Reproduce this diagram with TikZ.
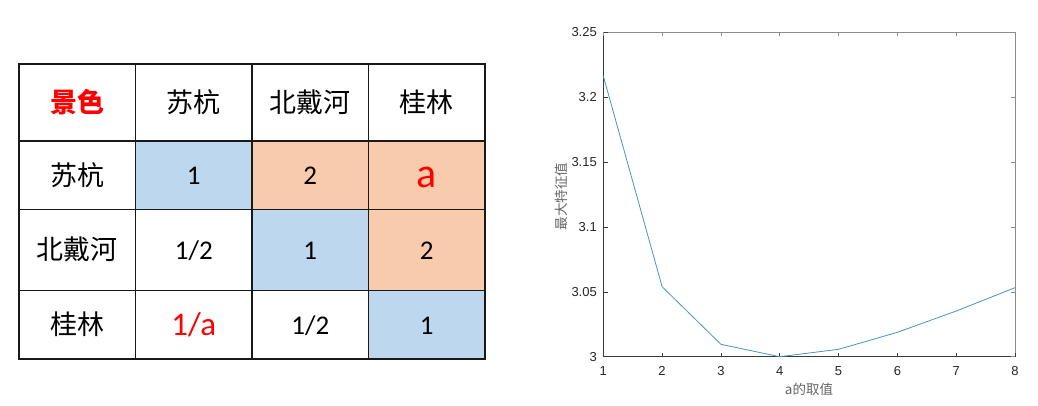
\documentclass[tikz,border=0pt]{standalone}
\usepackage{fontspec}
\setmainfont{Carlito}
\newfontfamily\cjk{Noto Sans CJK SC}
\newfontfamily\arial{Liberation Sans}
\definecolor{cellblue}{HTML}{BDD7EE}
\definecolor{cellorange}{HTML}{F8CBAD}
\definecolor{redtxt}{HTML}{FF0000}
\definecolor{plotline}{RGB}{70,150,190}
\definecolor{axdark}{HTML}{3A3A3A}
\definecolor{axlight}{HTML}{8C8C8C}
\definecolor{ticklbl}{HTML}{262626}
\begin{document}
\begin{tikzpicture}[x=1pt,y=-1pt,
  grid/.style={draw=black!90,line width=1.3pt},
  cn/.style={font=\cjk\fontsize{27}{30}\selectfont},
  num/.style={font=\fontsize{27}{30}\selectfont},
  ytl/.style={anchor=east,font=\arial\fontsize{13}{15}\selectfont,text=ticklbl,inner sep=0pt},
  xtl/.style={anchor=center,font=\arial\fontsize{13}{15}\selectfont,text=ticklbl,inner sep=0pt},
  axlbl/.style={font=\cjk\fontsize{13.5}{15}\selectfont,text=black!60,inner sep=0pt}]
\useasboundingbox (0,0) rectangle (1038,406);
\fill[white] (0,0) rectangle (1038,406);
% ---------- table ----------
\fill[cellblue] (135.7,141) rectangle (252,209.3);
\fill[cellblue] (252,209.3) rectangle (368.7,290.3);
\fill[cellblue] (368.7,290.3) rectangle (485,359);
\fill[cellorange] (252,141) rectangle (368.7,209.3);
\fill[cellorange] (368.7,141) rectangle (485,209.3);
\fill[cellorange] (368.7,209.3) rectangle (485,290.3);
\draw[grid] (19,64) rectangle (485,359);
\foreach \x in {135.7,252,368.7} \draw[grid] (\x,64) -- (\x,359);
\foreach \y in {141,209.3,290.3} \draw[grid] (19,\y) -- (485,\y);
% header row
\node[cn,text=redtxt,font=\cjk\bfseries\fontsize{27}{30}\selectfont] (h0) at (77.3,102.5) {景色};
\node[cn] (h1) at (193.8,102.5) {苏杭};
\node[cn] (h2) at (310.3,102.5) {北戴河};
\node[cn] (h3) at (426.8,102.5) {桂林};
% row labels
\node[cn] (r1) at (77.3,175.2) {苏杭};
\node[cn] (r2) at (77.3,249.8) {北戴河};
\node[cn] (r3) at (77.3,324.6) {桂林};
% values
\node[num] (c11) at (193.8,176) {1};
\node[num] (c12) at (310.3,176) {2};
\node[text=redtxt,font=\fontsize{42}{46}\selectfont] (c13) at (426.8,177) {a};
\node[num] (c21) at (193.8,250.5) {1/2};
\node[num] (c22) at (310.3,250.5) {1};
\node[num] (c23) at (426.8,250.5) {2};
\node[text=redtxt,font=\fontsize{33}{36}\selectfont] (c31) at (193.8,325) {1/a};
\node[num] (c32) at (310.3,325.5) {1/2};
\node[num] (c33) at (426.8,325.5) {1};
% ---------- chart ----------
\draw[axlight,line width=0.6pt] (603.3,32.3) -- (1015,32.3) -- (1015,356.7);
\draw[axdark,line width=0.6pt] (603.3,32.3) -- (603.3,356.7) -- (1015,356.7);
% y ticks
\foreach \v/\y in {3/356.7,3.05/291.8,3.1/226.9,3.15/162.0,3.2/97.2,3.25/32.3}{
  \draw[axdark,line width=0.5pt] (603.3,\y) -- (607.5,\y);
  \draw[axlight,line width=0.5pt] (1015,\y) -- (1010.8,\y);
  \node[ytl] (yt\v) at (597,\y) {\v};
}
% x ticks
\foreach \a/\x in {1/603.3,2/662.1,3/720.9,4/779.7,5/838.6,6/897.4,7/956.2,8/1015}{
  \draw[axdark,line width=0.5pt] (\x,356.7) -- (\x,352.5);
  \draw[axlight,line width=0.5pt] (\x,32.3) -- (\x,36.5);
  \node[xtl] (xt\a) at (\x,371) {\a};
}
\node[axlbl] (xlab) at (809,389) {a的取值};
\node[axlbl,rotate=90] (ylab) at (561,196.7) {最大特征值};
% data
\coordinate (p1) at (603.3,76);
\coordinate (p2) at (662.1,286.7);
\coordinate (p3) at (720.9,344.3);
\coordinate (p4) at (779.7,356.7);
\coordinate (p5) at (838.6,349.3);
\coordinate (p6) at (897.4,332.3);
\coordinate (p7) at (956.2,311);
\coordinate (p8) at (1015,287.7);
\draw[plotline,line width=0.8pt,line join=round] (p1) -- (p2) -- (p3) -- (p4) -- (p5) -- (p6) -- (p7) -- (p8);
\end{tikzpicture}
\end{document}
